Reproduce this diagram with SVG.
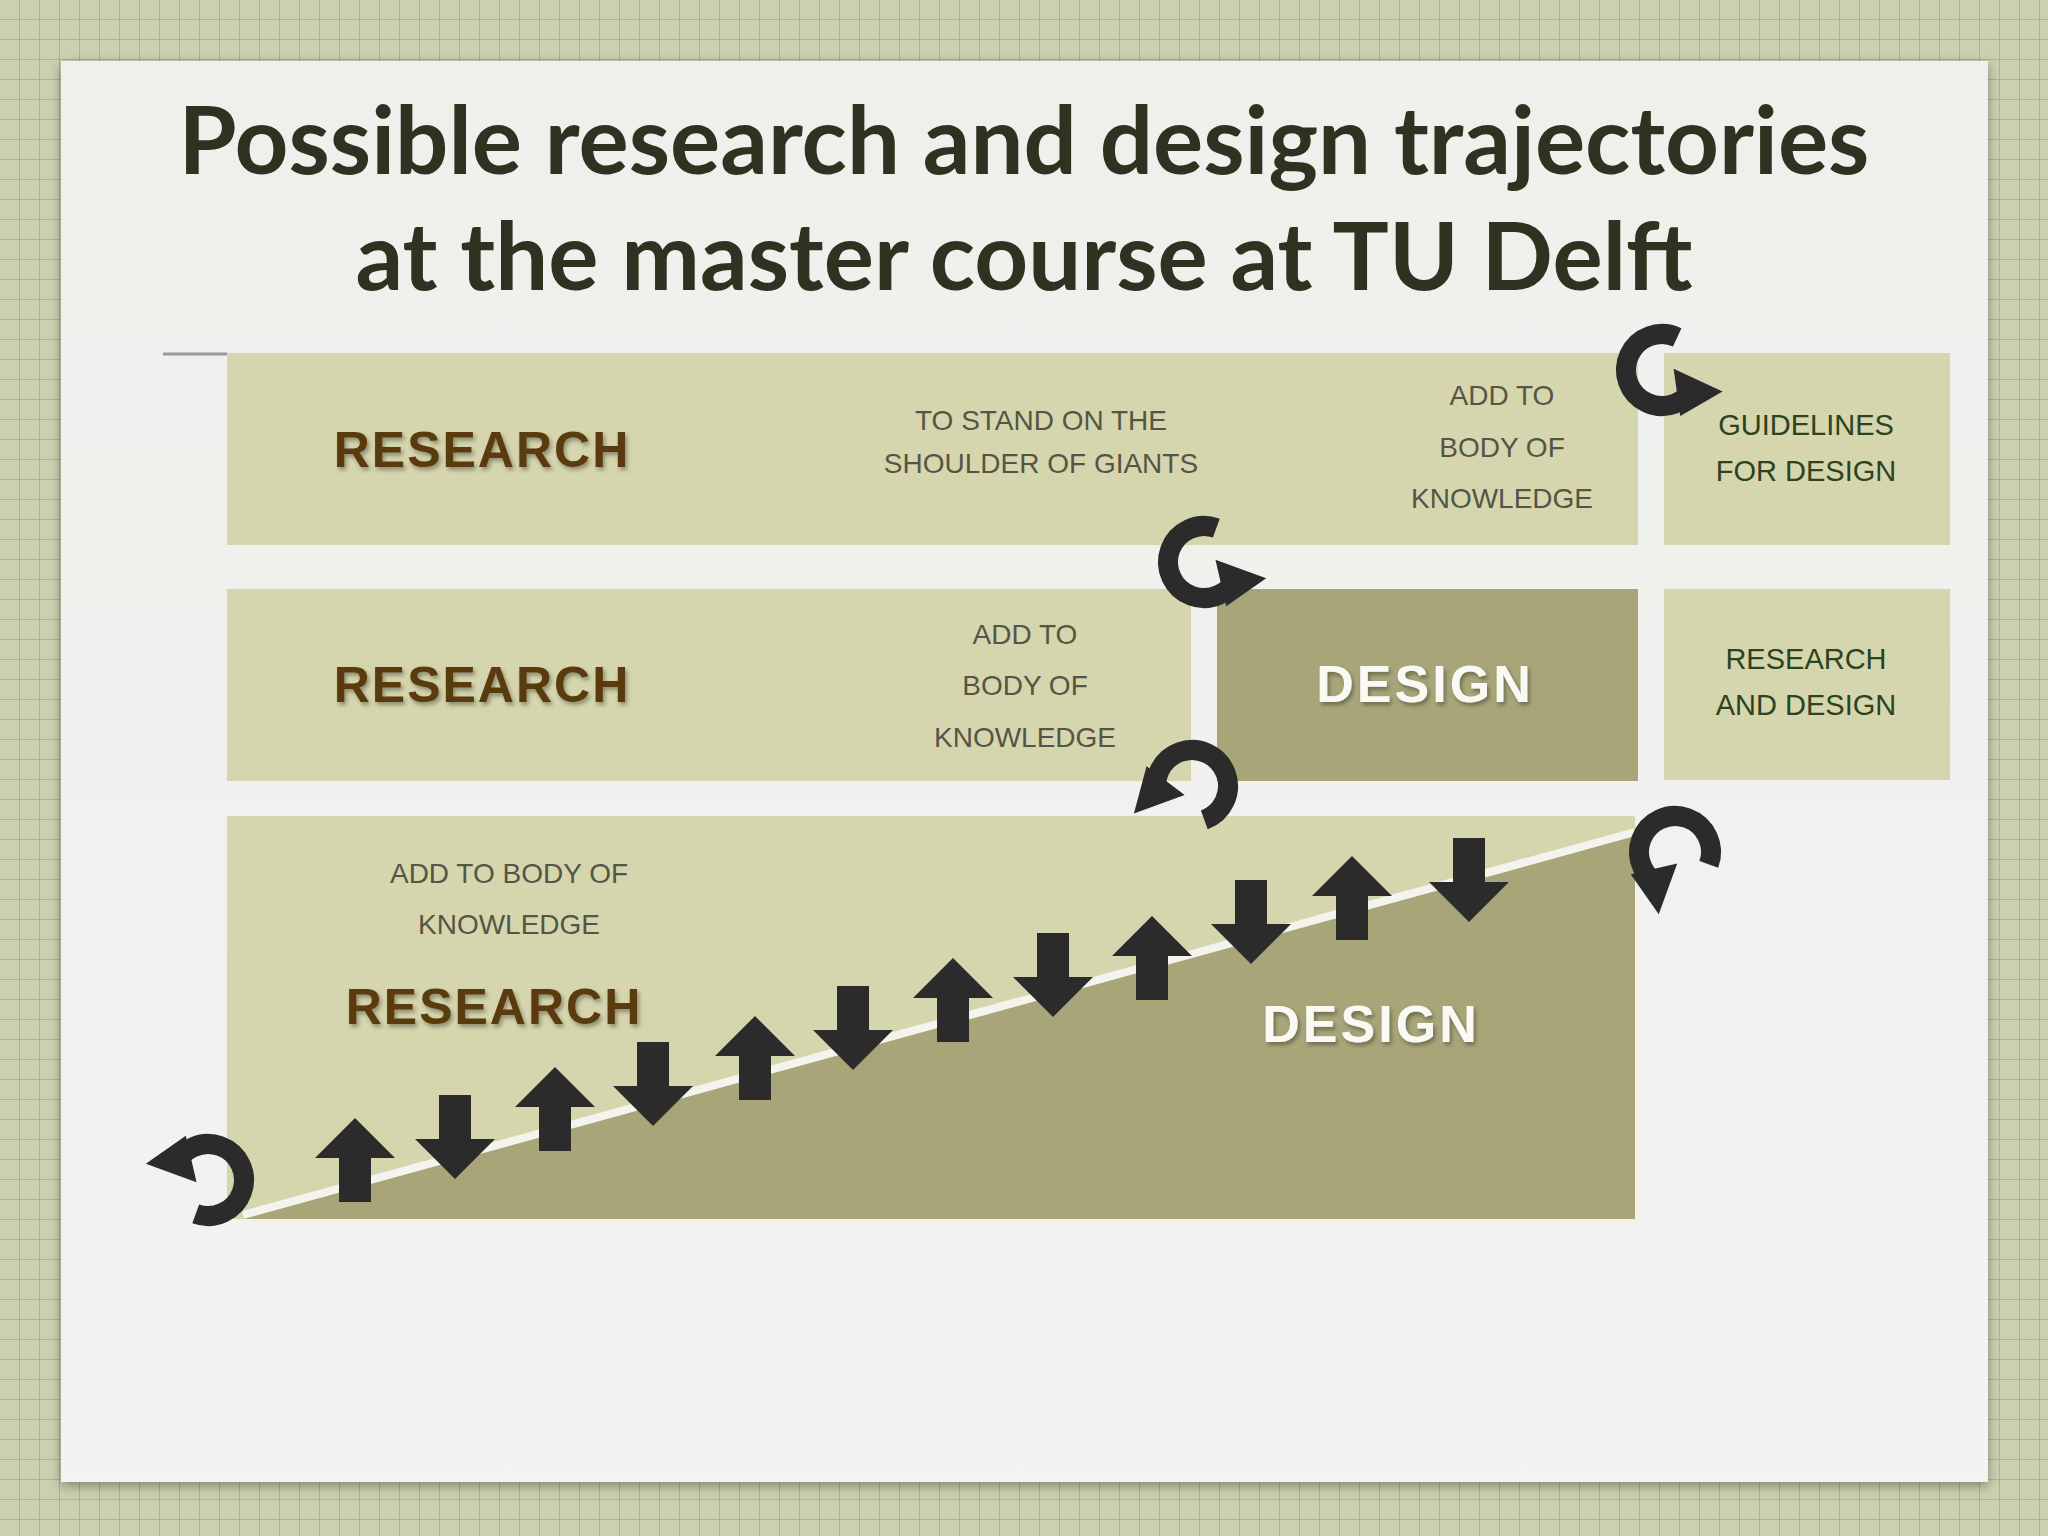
<svg xmlns="http://www.w3.org/2000/svg" width="2048" height="1536" viewBox="0 0 2048 1536">
<defs>
<pattern id="grid" width="20" height="20" patternUnits="userSpaceOnUse"><rect width="20" height="20" fill="#c9d1b1"/><path d="M20 0V20H0" fill="none" stroke="#a9b38f" stroke-width="2"/></pattern>
<linearGradient id="card" x1="0" y1="0" x2="0" y2="1"><stop offset="0" stop-color="#eef0ec"/><stop offset="1" stop-color="#f3f3f1"/></linearGradient>
<filter id="sh" x="-5%" y="-5%" width="110%" height="110%"><feDropShadow dx="0" dy="4" stdDeviation="6" flood-opacity="0.35"/></filter>
<filter id="ts"><feDropShadow dx="2" dy="3" stdDeviation="2" flood-color="#000" flood-opacity="0.35"/></filter>
<polygon id="up" points="0,-42 40,-2 16,-2 16,42 -16,42 -16,-2 -40,-2" fill="#2b2b2b"/>
<g id="loop"><path d="M 0 -36 A 36 36 0 1 0 36 0" fill="none" stroke="#2b2b2b" stroke-width="20"/><polygon points="10,-6 64,-6 36,34" fill="#2b2b2b"/></g>
</defs>
<style>
.hand{font-family:"Liberation Sans",sans-serif;text-anchor:middle}
.big{font-size:50px;font-weight:bold;fill:#5a3a10;letter-spacing:2px}
.sm{font-size:28px;fill:#555546}
.grn{font-size:29px;fill:#2d4220}
.wd{font-size:52px;font-weight:bold;fill:#fafaf4;letter-spacing:3px}
.light{fill:#d5d6ad}.dark{fill:#a8a679}
</style>
<rect width="2048" height="1536" fill="url(#grid)"/>
<rect x="61" y="61" width="1927" height="1421" fill="url(#card)" filter="url(#sh)"/>
<g font-family="Lato,'Open Sans',sans-serif" font-weight="bold" font-size="94" fill="#2e3321" text-anchor="middle">
<text x="1024" y="174">Possible research and design trajectories</text>
<text x="1024" y="290">at the master course at TU Delft</text>
</g>
<line x1="163" y1="354" x2="227" y2="354" stroke="#999" stroke-width="3"/>
<g id="row1">
<rect class="light" x="227" y="353" width="1411" height="192"/>
<text class="hand big" x="482" y="467" filter="url(#ts)">RESEARCH</text>
<text class="hand sm" x="1041" y="430">TO STAND ON THE</text>
<text class="hand sm" x="1041" y="473">SHOULDER OF GIANTS</text>
<text class="hand sm" x="1502" y="405">ADD TO</text>
<text class="hand sm" x="1502" y="457">BODY OF</text>
<text class="hand sm" x="1502" y="508">KNOWLEDGE</text>
</g>
<g id="box-guidelines"><rect class="light" x="1664" y="353" width="286" height="192"/>
<text class="hand grn" x="1806" y="435">GUIDELINES</text><text class="hand grn" x="1806" y="481">FOR DESIGN</text></g>
<g id="row2">
<rect class="light" x="227" y="589" width="964" height="192"/>
<text class="hand big" x="482" y="702" filter="url(#ts)">RESEARCH</text>
<text class="hand sm" x="1025" y="644">ADD TO</text>
<text class="hand sm" x="1025" y="695">BODY OF</text>
<text class="hand sm" x="1025" y="747">KNOWLEDGE</text>
</g>
<g id="design2"><rect class="dark" x="1217" y="589" width="421" height="192"/>
<text class="hand wd" x="1425" y="702" filter="url(#ts)">DESIGN</text></g>
<g id="box-rd"><rect class="light" x="1664" y="589" width="286" height="191"/>
<text class="hand grn" x="1806" y="669">RESEARCH</text><text class="hand grn" x="1806" y="715">AND DESIGN</text></g>
<g id="row3">
<rect class="light" x="227" y="816" width="1408" height="403"/>
<polygon class="dark" points="243,1219 1635,832 1635,1219"/>
<line x1="243" y1="1215" x2="1635" y2="832" stroke="#f4f4ee" stroke-width="8"/>
<text class="hand sm" x="509" y="883">ADD TO BODY OF</text>
<text class="hand sm" x="509" y="934">KNOWLEDGE</text>
<text class="hand big" x="494" y="1024" filter="url(#ts)">RESEARCH</text>
<text class="hand wd" x="1371" y="1042" filter="url(#ts)">DESIGN</text>
</g>
<g id="connectors">
<use href="#up" x="355" y="1160"/>
<use href="#up" transform="translate(455,1137) rotate(180)"/>
<use href="#up" x="555" y="1109"/>
<use href="#up" transform="translate(653,1084) rotate(180)"/>
<use href="#up" x="755" y="1058"/>
<use href="#up" transform="translate(853,1028) rotate(180)"/>
<use href="#up" x="953" y="1000"/>
<use href="#up" transform="translate(1053,975) rotate(180)"/>
<use href="#up" x="1152" y="958"/>
<use href="#up" transform="translate(1251,922) rotate(180)"/>
<use href="#up" x="1352" y="898"/>
<use href="#up" transform="translate(1469,880) rotate(180)"/>
<use href="#loop" transform="translate(208,1180) rotate(200)"/>
<use href="#loop" transform="translate(1204,562) rotate(20)"/>
<use href="#loop" transform="translate(1192,786) rotate(160)"/>
<use href="#loop" transform="translate(1662,370) rotate(25)"/>
<use href="#loop" transform="translate(1675,852) rotate(110)"/>
</g>
</svg>
